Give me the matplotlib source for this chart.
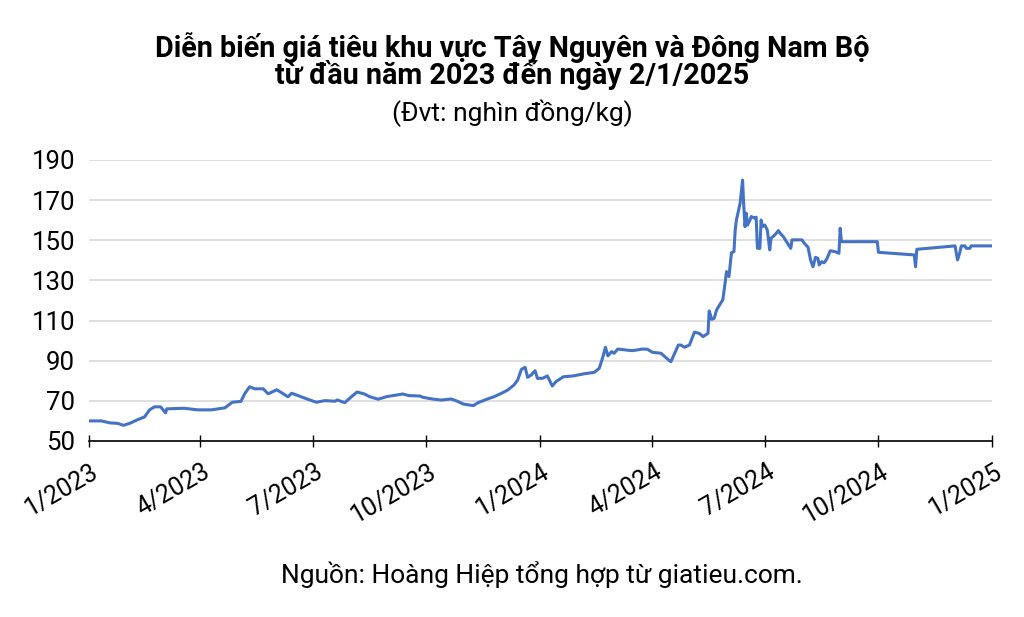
import numpy as np
import pandas as pd
import matplotlib.pyplot as plt
import matplotlib.dates as mdates
import matplotlib.transforms as mtransforms

plt.rcParams['font.family'] = ['Roboto', 'DejaVu Sans']

# Giá tiêu (nghìn đồng/kg)
ngay = [
    '2023-01-01', '2023-01-11', '2023-01-18', '2023-01-24', '2023-01-29', '2023-02-03',
    '2023-02-09', '2023-02-15', '2023-02-19', '2023-02-23', '2023-02-28', '2023-03-04',
    '2023-03-05', '2023-03-19', '2023-03-30', '2023-04-10', '2023-04-21', '2023-04-27',
    '2023-05-04', '2023-05-07', '2023-05-11', '2023-05-15', '2023-05-22', '2023-05-26',
    '2023-06-02', '2023-06-06', '2023-06-11', '2023-06-14', '2023-06-20', '2023-06-27',
    '2023-07-04', '2023-07-11', '2023-07-19', '2023-07-21', '2023-07-27', '2023-08-01',
    '2023-08-06', '2023-08-12', '2023-08-16', '2023-08-23', '2023-08-30', '2023-09-07',
    '2023-09-12', '2023-09-17', '2023-09-26', '2023-09-28', '2023-10-06', '2023-10-13',
    '2023-10-21', '2023-10-25', '2023-10-31', '2023-11-08', '2023-11-12', '2023-11-19',
    '2023-11-25', '2023-12-01', '2023-12-06', '2023-12-11', '2023-12-14', '2023-12-17',
    '2023-12-20', '2023-12-22', '2023-12-25', '2023-12-28', '2023-12-30', '2024-01-03',
    '2024-01-07', '2024-01-11', '2024-01-14', '2024-01-20', '2024-01-28', '2024-02-05',
    '2024-02-14', '2024-02-18', '2024-02-21', '2024-02-23', '2024-02-25', '2024-02-28',
    '2024-03-01', '2024-03-04', '2024-03-11', '2024-03-16', '2024-03-24', '2024-03-28',
    '2024-04-01', '2024-04-08', '2024-04-14', '2024-04-16', '2024-04-22', '2024-04-24',
    '2024-04-27', '2024-05-01', '2024-05-05', '2024-05-09', '2024-05-12', '2024-05-16',
    '2024-05-17', '2024-05-19', '2024-05-21', '2024-05-23', '2024-05-27', '2024-05-28',
    '2024-05-30', '2024-05-31', '2024-06-02', '2024-06-04', '2024-06-06', '2024-06-07',
    '2024-06-08', '2024-06-11', '2024-06-13', '2024-06-14', '2024-06-15', '2024-06-16',
    '2024-06-17', '2024-06-19', '2024-06-20', '2024-06-23', '2024-06-24', '2024-06-25',
    '2024-06-27', '2024-06-28', '2024-06-29', '2024-07-01', '2024-07-03', '2024-07-05',
    '2024-07-06', '2024-07-09', '2024-07-12', '2024-07-13', '2024-07-16', '2024-07-18',
    '2024-07-22', '2024-07-23', '2024-07-31', '2024-08-02', '2024-08-05', '2024-08-07',
    '2024-08-09', '2024-08-11', '2024-08-13', '2024-08-14', '2024-08-16', '2024-08-18',
    '2024-08-20', '2024-08-23', '2024-08-27', '2024-08-30', '2024-08-31', '2024-09-01',
    '2024-09-30', '2024-10-01', '2024-10-30', '2024-10-31', '2024-11-01', '2024-12-02',
    '2024-12-03', '2024-12-04', '2024-12-06', '2024-12-07', '2024-12-10', '2024-12-11',
    '2024-12-14', '2024-12-15', '2025-01-01',
]
gia = [
    60, 60, 59, 58.8, 57.8, 58.8,
    60.5, 62, 65.5, 67, 67, 64,
    66, 66.3, 65.5, 65.5, 66.5, 69.3,
    69.7, 73.5, 77, 76, 76, 73.5,
    75.5, 74, 72, 73.8, 72.4, 70.8,
    69.3, 70.1, 69.8, 70.4, 69.1, 71.8,
    74.4, 73.4, 72.1, 70.8, 72.1, 72.9,
    73.4, 72.6, 72.4, 71.8, 70.9, 70.4,
    70.9, 70.1, 68.4, 67.6, 69.1, 70.8,
    72.1, 73.8, 75.4, 77.9, 80.4, 85.7,
    86.7, 81.7, 82.9, 85, 81.2, 81.2,
    82.4, 77.4, 79.6, 82, 82.4, 83.4,
    84.2, 86.2, 92, 96.7, 92.4, 94.5,
    93.7, 95.8, 95.3, 95, 95.8, 95.7,
    94.2, 93.7, 90.4, 89.5, 97.8, 97.8,
    96.7, 97.8, 104.2, 103.6, 102, 103.6,
    114.8, 110.6, 111.1, 115.3, 119.4, 120.3,
    129.4, 134.4, 131.9, 143.8, 144.3, 155,
    160.1, 168.4, 180, 166.7, 156.8, 163.5,
    157.6, 160.1, 161.8, 161, 161.5, 146,
    146, 160.1, 156.8, 157.6, 155.1, 145.2,
    151, 152.6, 154.8, 153.8, 151.8, 149.8,
    146, 150.2, 150.2, 148.5, 146.5, 140.2,
    136.8, 141.5, 141, 137.7, 139.3, 138.8,
    140.5, 144.8, 144.3, 143.5, 156, 149.3,
    149.3, 144, 142.7, 136.8, 145.5, 147.2,
    143.5, 140.2, 144.3, 147.2, 147.2, 146,
    146, 147.2, 147.2,
]

df = pd.DataFrame({'ngay': pd.to_datetime(ngay), 'gia': gia})

nhan_truc_x = ['1/2023', '4/2023', '7/2023', '10/2023', '1/2024',
               '4/2024', '7/2024', '10/2024', '1/2025']
moc_x = pd.date_range('2023-01-01', '2025-01-01', freq='QS')
moc_y = [50, 70, 90, 110, 130, 150, 170, 190]

fig = plt.figure(figsize=(10.24, 6.17), dpi=100)
ax = fig.add_axes([0.0869, 0.2853, 0.882, 0.4554])

ax.plot(df['ngay'], df['gia'], color='#4472C4', linewidth=2.2)

ax.set_xlim(moc_x[0], moc_x[-1])
ax.set_ylim(50, 190)
ax.set_yticks(moc_y)
ax.set_xticks(moc_x)
ax.tick_params(axis='y', length=0, labelsize=18.5, pad=10)
ax.tick_params(axis='x', direction='inout', length=8, width=1, pad=9)
ax.set_xticklabels(nhan_truc_x, rotation=30, ha='right', fontsize=18)
# dịch nhãn trục x sang phải một chút
offset = mtransforms.ScaledTranslation(14 / 100, 0, fig.dpi_scale_trans)
for lbl in ax.get_xticklabels():
    lbl.set_transform(lbl.get_transform() + offset)
ax.grid(axis='y', color='#d9d9d9', linewidth=1.2)
ax.set_axisbelow(True)
for s in ['top', 'right', 'left']:
    ax.spines[s].set_visible(False)
ax.spines['bottom'].set_color('black')
ax.spines['bottom'].set_linewidth(1.2)

fig.text(0.5, 1 - 47 / 617, 'Diễn biến giá tiêu khu vực Tây Nguyên và Đông Nam Bộ',
         ha='center', va='center', fontsize=20.7, fontweight='bold')
fig.text(0.5, 1 - 75 / 617, 'từ đầu năm 2023 đến ngày 2/1/2025',
         ha='center', va='center', fontsize=20.7, fontweight='bold')
fig.text(0.5, 1 - 113 / 617, '(Đvt: nghìn đồng/kg)', ha='center', va='center', fontsize=19)
fig.text(542 / 1024, 1 - 574 / 617, 'Nguồn: Hoàng Hiệp tổng hợp từ giatieu.com.',
         ha='center', va='center', fontsize=19)

plt.savefig('out.png', dpi=100)
